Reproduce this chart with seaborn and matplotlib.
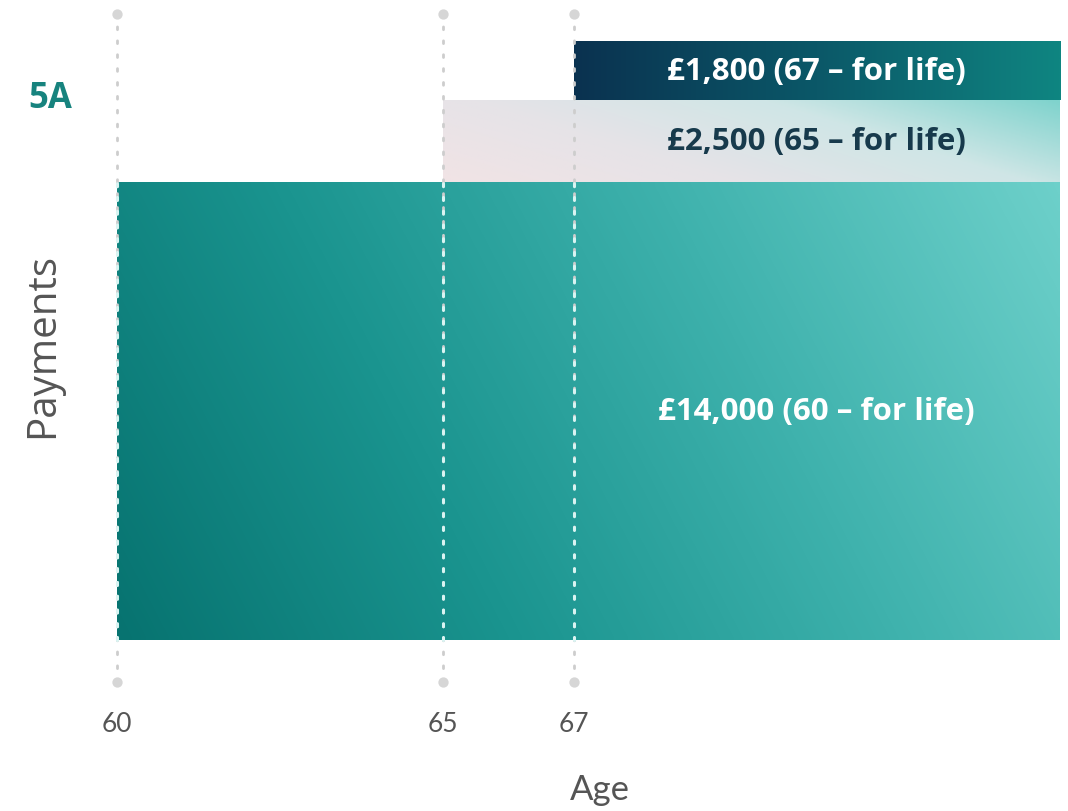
import matplotlib
matplotlib.use("Agg")
import matplotlib.pyplot as plt
from matplotlib.colors import LinearSegmentedColormap
import seaborn as sns
import numpy as np

# chart data
start_age = [60, 65, 67]
amounts = [14000, 2500, 1800]
bar_labels = ["£14,000 (60 – for life)", "£2,500 (65 – for life)", "£1,800 (67 – for life)"]
tick_ages = [60, 65, 67]
end_age = 74.46  # bars run off to the right edge ("for life")

sns.set_theme(style="white")
plt.rcParams['font.family'] = ['Lato', 'DejaVu Sans']

fig = plt.figure(figsize=(10.68, 8.12), dpi=100)
ax = fig.add_axes([51.8 / 1068, 1 - 683 / 812, (1060 - 51.8) / 1068, 668 / 812])

xlim = (59, end_age)
ylim = (-1284, 19136)

# stacked horizontal bands
bottoms = np.concatenate([[0], np.cumsum(amounts)[:-1]])
widths = [end_age - a for a in start_age]
bars = ax.bar(start_age, amounts, width=widths, bottom=bottoms, align='edge',
              linewidth=0, zorder=2)

gradients = [
    (['#077370', '#1a948f', '#3fb2ad', '#6dd0ca'], 0.8, 0.2),
    (['#f1e3e5', '#e6e3e8', '#cfe6e6', '#7fd3cd'], 0.7, 0.3),
    (['#0a3250', '#0b5868', '#0f8581'], 1.0, 0.0),
]


def gradient_fill(patch, colors, wx, wy):
    x0, y0 = patch.get_x(), patch.get_y()
    w, h = patch.get_width(), patch.get_height()
    xx, yy = np.meshgrid(np.linspace(0, 1, 300), np.linspace(0, 1, 80))
    t = wx * xx + wy * yy
    t = (t - t.min()) / (t.max() - t.min())
    cmap = LinearSegmentedColormap.from_list('g', colors)
    patch.set_facecolor(colors[0])
    ax.imshow(t, cmap=cmap, extent=[x0, x0 + w, y0, y0 + h], origin='lower',
              aspect='auto', interpolation='bilinear', zorder=2.5, clip_path=patch)


for patch, (cols, wx, wy) in zip(bars, gradients):
    gradient_fill(patch, cols, wx, wy)

# dotted guide lines with dots at both ends
for a in tick_ages:
    ax.plot([a, a], ylim, color='#cdcdcd', lw=2, ls=(0, (1, 4)),
            dash_capstyle='round', clip_on=False, zorder=3)
    ax.plot([a, a], [0, amounts[0]], color='#d9f4f2', lw=2.2, ls=(0, (1, 3.5)),
            dash_capstyle='round', zorder=4)
ax.scatter(tick_ages * 2, [ylim[0]] * 3 + [ylim[1]] * 3, s=55, color='#d6d6d6',
           clip_on=False, zorder=5, linewidths=0)

# labels inside bands, centred over the 67+ part
label_x = (start_age[2] + end_age) / 2
label_colors = ['white', '#173a4c', 'white']
for b, amt, lab, col in zip(bottoms, amounts, bar_labels, label_colors):
    ax.text(label_x, b + amt / 2, lab, ha='center', va='center', color=col,
            fontsize=22.5, fontweight='bold', family=['Open Sans', 'DejaVu Sans'],
            zorder=6)

ax.set_xlim(*xlim)
ax.set_ylim(*ylim)
ax.set_xticks(tick_ages)
ax.set_xticklabels([str(a) for a in tick_ages], fontsize=19, color='#555555')
ax.tick_params(axis='x', length=0, pad=21)
ax.set_yticks([])
sns.despine(ax=ax, left=True, bottom=True)

ax.set_xlabel("Age", fontsize=25, color='#555555')
ax.xaxis.set_label_coords(0.5437, -0.16)
ax.xaxis.label.set_va('center')
ax.set_ylabel("Payments", fontsize=29, color='#555555', family=['Open Sans', 'DejaVu Sans'])
ax.yaxis.set_label_coords(-0.009, 0.505)
ax.yaxis.label.set_va('center')

fig.text(50 / 1068, 1 - 99 / 812, "5A", ha='center', va='center', fontsize=25,
         fontweight='bold', color='#17837e', family=['Open Sans', 'DejaVu Sans'])

fig.savefig("out.png", dpi=100, facecolor='white')
